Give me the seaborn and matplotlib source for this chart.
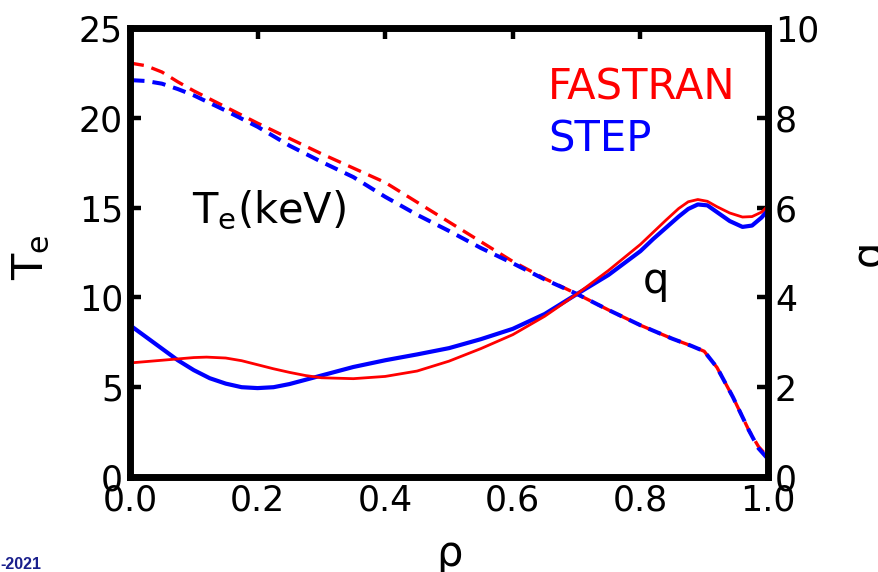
import matplotlib
matplotlib.use("Agg")
import matplotlib.pyplot as plt
import seaborn as sns
import pandas as pd

# ---- data ----
rho_te_fastran = [0.0, 0.025, 0.05, 0.075, 0.1, 0.15, 0.2, 0.25, 0.3, 0.35, 0.4, 0.45, 0.5,
                  0.55, 0.6, 0.65, 0.7, 0.75, 0.8, 0.85, 0.88, 0.9, 0.92, 0.945, 0.97, 0.985, 1.0]
te_fastran = [23.05, 22.9, 22.55, 22.0, 21.5, 20.6, 19.7, 18.85, 18.0, 17.2, 16.4, 15.3, 14.2,
              13.1, 12.0, 11.05, 10.2, 9.3, 8.45, 7.7, 7.3, 7.0, 6.1, 4.45, 2.6, 1.7, 1.1]

rho_te_step = [0.0, 0.025, 0.05, 0.075, 0.1, 0.15, 0.2, 0.25, 0.3, 0.35, 0.4, 0.45, 0.5,
               0.55, 0.6, 0.65, 0.7, 0.75, 0.8, 0.85, 0.88, 0.9, 0.92, 0.945, 0.97, 0.985, 1.0]
te_step = [22.1, 22.05, 21.9, 21.6, 21.25, 20.4, 19.5, 18.45, 17.55, 16.7, 15.6, 14.6, 13.7,
           12.75, 11.9, 11.0, 10.2, 9.3, 8.45, 7.7, 7.3, 7.0, 6.1, 4.45, 2.6, 1.6, 1.0]

rho_q_fastran = [0.0, 0.05, 0.1, 0.12, 0.15, 0.175, 0.2, 0.225, 0.25, 0.275, 0.3, 0.35, 0.4,
                 0.45, 0.5, 0.55, 0.6, 0.65, 0.7, 0.75, 0.8, 0.82, 0.84, 0.86, 0.875, 0.89,
                 0.905, 0.92, 0.94, 0.96, 0.975, 0.99, 1.0]
q_fastran = [2.54, 2.6, 2.66, 2.67, 2.65, 2.59, 2.5, 2.41, 2.33, 2.26, 2.21, 2.19, 2.24,
             2.36, 2.58, 2.86, 3.17, 3.58, 4.07, 4.6, 5.18, 5.45, 5.72, 5.98, 6.13, 6.18,
             6.14, 6.02, 5.88, 5.79, 5.8, 5.9, 6.04]

rho_q_step = [0.0, 0.025, 0.05, 0.075, 0.1, 0.125, 0.15, 0.175, 0.2, 0.225, 0.25, 0.3, 0.35,
              0.4, 0.45, 0.5, 0.55, 0.6, 0.65, 0.7, 0.75, 0.8, 0.82, 0.84, 0.86, 0.875, 0.89,
              0.905, 0.92, 0.94, 0.96, 0.975, 0.99, 1.0]
q_step = [3.38, 3.12, 2.86, 2.6, 2.38, 2.2, 2.08, 2.0, 1.98, 2.0, 2.07, 2.26, 2.45,
          2.6, 2.73, 2.87, 3.07, 3.3, 3.63, 4.07, 4.5, 5.03, 5.3, 5.55, 5.8, 5.97, 6.07,
          6.05, 5.9, 5.7, 5.57, 5.6, 5.78, 5.95]

x_ticks = [0.0, 0.2, 0.4, 0.6, 0.8, 1.0]
te_ticks = [0, 5, 10, 15, 20, 25]
q_ticks = [0, 2, 4, 6, 8, 10]

RED = "#ff0000"
BLUE = "#0000ff"

sns.set_style("white")
plt.rcParams["font.family"] = ["DejaVu Sans"]
plt.rcParams["mathtext.default"] = "regular"
plt.rcParams["text.color"] = "black"
plt.rcParams["axes.labelcolor"] = "black"

fig = plt.figure(figsize=(8.79, 5.72), dpi=100)
ax = fig.add_axes([130 / 879, 1 - 477 / 572, 638 / 879, 449 / 572])
ax2 = ax.twinx()

df_te_f = pd.DataFrame({"rho": rho_te_fastran, "val": te_fastran})
df_te_s = pd.DataFrame({"rho": rho_te_step, "val": te_step})
df_q_f = pd.DataFrame({"rho": rho_q_fastran, "val": q_fastran})
df_q_s = pd.DataFrame({"rho": rho_q_step, "val": q_step})

sns.lineplot(data=df_te_f, x="rho", y="val", ax=ax, color=RED, lw=2.4)
ax.lines[-1].set_linestyle((0, (4.2, 2.4)))
sns.lineplot(data=df_te_s, x="rho", y="val", ax=ax, color=BLUE, lw=2.9)
ax.lines[-1].set_linestyle((5.0, (3.3, 2.0)))

sns.lineplot(data=df_q_s, x="rho", y="val", ax=ax2, color=BLUE, lw=3.0)
sns.lineplot(data=df_q_f, x="rho", y="val", ax=ax2, color=RED, lw=2.0)

ax.set_xlim(0, 1)
ax.set_ylim(0, 25)
ax2.set_ylim(0, 10)
ax.set_xticks(x_ticks)
ax.set_xticklabels([f"{v:.1f}" for v in x_ticks])
ax.set_yticks(te_ticks)
ax2.set_yticks(q_ticks)

for a in (ax, ax2):
    for s in a.spines.values():
        s.set_linewidth(4.8)
        s.set_color("black")
ax.tick_params(axis="both", direction="in", length=8, width=3.2, labelsize=25,
               colors="black", pad=5, top=True)
ax.tick_params(axis="y", right=False)
ax2.tick_params(axis="y", direction="in", length=8, width=3.2, labelsize=25,
                colors="black", pad=5)

ax.set_xlabel(r"$\rho$", fontsize=30, color="black")
ax.xaxis.set_label_coords(0.5, -0.13)
ax.set_ylabel("T$_e$", fontsize=31, color="black")
ax.yaxis.set_label_coords(-0.122, 0.49)
ax2.set_ylabel("q", fontsize=30, rotation=90, color="black")
ax2.yaxis.set_label_coords(1.125, 0.5)

ax.text((548 - 130) / 638, (477 - 100) / 449, "FASTRAN", color=RED, fontsize=30,
        transform=ax.transAxes, va="baseline", ha="left")
ax.text((548 - 130) / 638, (477 - 152) / 449, "STEP", color=BLUE, fontsize=30,
        transform=ax.transAxes, va="baseline", ha="left")
ax.text((192 - 130) / 638, (477 - 223) / 449, "T$_e$(keV)", color="black", fontsize=30,
        transform=ax.transAxes, va="baseline", ha="left")
ax.text((643 - 130) / 638, (477 - 293) / 449, "q", color="black", fontsize=30,
        transform=ax.transAxes, va="baseline", ha="left")

fig.text(0.0, 0.0, "-2021", color="#1a1f8c", fontsize=11.5, fontweight="bold",
         family="Liberation Sans", ha="left", va="bottom")

fig.savefig("out.png", dpi=100)
